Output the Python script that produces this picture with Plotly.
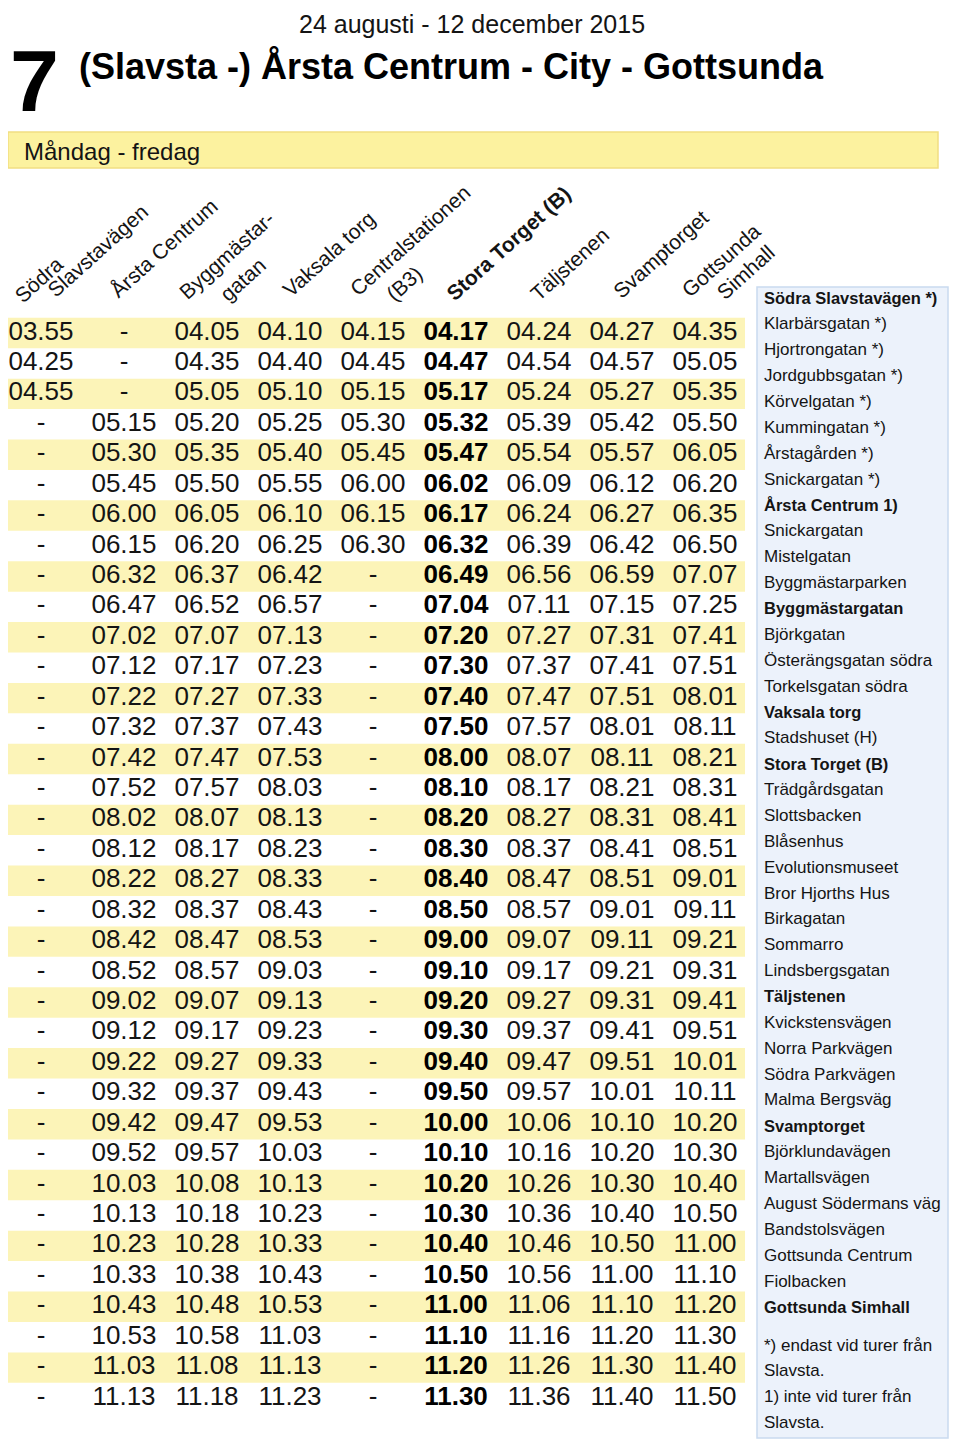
import plotly.graph_objects as go

# ---------------- data ----------------
subtitle = "24 augusti - 12 december 2015"
route_number = "7"
route_title = "(Slavsta -) Årsta Centrum - City - Gottsunda"
day_label = "Måndag - fredag"

header_texts = ["Södra", "Slavstavägen", "Årsta Centrum", "Byggmästar-", "gatan",
                "Vaksala torg", "Centralstationen", "(B3)", "Stora Torget (B)",
                "Täljstenen", "Svamptorget", "Gottsunda", "Simhall"]
header_bold = [False, False, False, False, False, False, False, False, True,
               False, False, False, False]

times = [
    ["03.55", "-", "04.05", "04.10", "04.15", "04.17", "04.24", "04.27", "04.35"],
    ["04.25", "-", "04.35", "04.40", "04.45", "04.47", "04.54", "04.57", "05.05"],
    ["04.55", "-", "05.05", "05.10", "05.15", "05.17", "05.24", "05.27", "05.35"],
    ["-", "05.15", "05.20", "05.25", "05.30", "05.32", "05.39", "05.42", "05.50"],
    ["-", "05.30", "05.35", "05.40", "05.45", "05.47", "05.54", "05.57", "06.05"],
    ["-", "05.45", "05.50", "05.55", "06.00", "06.02", "06.09", "06.12", "06.20"],
    ["-", "06.00", "06.05", "06.10", "06.15", "06.17", "06.24", "06.27", "06.35"],
    ["-", "06.15", "06.20", "06.25", "06.30", "06.32", "06.39", "06.42", "06.50"],
    ["-", "06.32", "06.37", "06.42", "-", "06.49", "06.56", "06.59", "07.07"],
    ["-", "06.47", "06.52", "06.57", "-", "07.04", "07.11", "07.15", "07.25"],
    ["-", "07.02", "07.07", "07.13", "-", "07.20", "07.27", "07.31", "07.41"],
    ["-", "07.12", "07.17", "07.23", "-", "07.30", "07.37", "07.41", "07.51"],
    ["-", "07.22", "07.27", "07.33", "-", "07.40", "07.47", "07.51", "08.01"],
    ["-", "07.32", "07.37", "07.43", "-", "07.50", "07.57", "08.01", "08.11"],
    ["-", "07.42", "07.47", "07.53", "-", "08.00", "08.07", "08.11", "08.21"],
    ["-", "07.52", "07.57", "08.03", "-", "08.10", "08.17", "08.21", "08.31"],
    ["-", "08.02", "08.07", "08.13", "-", "08.20", "08.27", "08.31", "08.41"],
    ["-", "08.12", "08.17", "08.23", "-", "08.30", "08.37", "08.41", "08.51"],
    ["-", "08.22", "08.27", "08.33", "-", "08.40", "08.47", "08.51", "09.01"],
    ["-", "08.32", "08.37", "08.43", "-", "08.50", "08.57", "09.01", "09.11"],
    ["-", "08.42", "08.47", "08.53", "-", "09.00", "09.07", "09.11", "09.21"],
    ["-", "08.52", "08.57", "09.03", "-", "09.10", "09.17", "09.21", "09.31"],
    ["-", "09.02", "09.07", "09.13", "-", "09.20", "09.27", "09.31", "09.41"],
    ["-", "09.12", "09.17", "09.23", "-", "09.30", "09.37", "09.41", "09.51"],
    ["-", "09.22", "09.27", "09.33", "-", "09.40", "09.47", "09.51", "10.01"],
    ["-", "09.32", "09.37", "09.43", "-", "09.50", "09.57", "10.01", "10.11"],
    ["-", "09.42", "09.47", "09.53", "-", "10.00", "10.06", "10.10", "10.20"],
    ["-", "09.52", "09.57", "10.03", "-", "10.10", "10.16", "10.20", "10.30"],
    ["-", "10.03", "10.08", "10.13", "-", "10.20", "10.26", "10.30", "10.40"],
    ["-", "10.13", "10.18", "10.23", "-", "10.30", "10.36", "10.40", "10.50"],
    ["-", "10.23", "10.28", "10.33", "-", "10.40", "10.46", "10.50", "11.00"],
    ["-", "10.33", "10.38", "10.43", "-", "10.50", "10.56", "11.00", "11.10"],
    ["-", "10.43", "10.48", "10.53", "-", "11.00", "11.06", "11.10", "11.20"],
    ["-", "10.53", "10.58", "11.03", "-", "11.10", "11.16", "11.20", "11.30"],
    ["-", "11.03", "11.08", "11.13", "-", "11.20", "11.26", "11.30", "11.40"],
    ["-", "11.13", "11.18", "11.23", "-", "11.30", "11.36", "11.40", "11.50"],
]
bold_column = 5

stops = ["Södra Slavstavägen *)", "Klarbärsgatan *)", "Hjortrongatan *)", "Jordgubbsgatan *)",
         "Körvelgatan *)", "Kummingatan *)", "Årstagården *)", "Snickargatan *)",
         "Årsta Centrum 1)", "Snickargatan", "Mistelgatan", "Byggmästarparken",
         "Byggmästargatan", "Björkgatan", "Österängsgatan södra", "Torkelsgatan södra",
         "Vaksala torg", "Stadshuset (H)", "Stora Torget (B)", "Trädgårdsgatan",
         "Slottsbacken", "Blåsenhus", "Evolutionsmuseet", "Bror Hjorths Hus",
         "Birkagatan", "Sommarro", "Lindsbergsgatan", "Täljstenen", "Kvickstensvägen",
         "Norra Parkvägen", "Södra Parkvägen", "Malma Bergsväg", "Svamptorget",
         "Björklundavägen", "Martallsvägen", "August Södermans väg", "Bandstolsvägen",
         "Gottsunda Centrum", "Fiolbacken", "Gottsunda Simhall"]
stop_bold = ["Södra Slavstavägen *)", "Årsta Centrum 1)", "Byggmästargatan", "Vaksala torg",
             "Stora Torget (B)", "Täljstenen", "Svamptorget", "Gottsunda Simhall"]
footnotes = ["*) endast vid turer från", "Slavsta.", "1) inte vid turer från", "Slavsta."]

# ---------------- layout helpers ----------------
W, H = 960, 1450
OFF = 8  # page body margin added by the browser
def px(x):
    return (x - OFF) / W
def py(y):
    return 1 - (y - OFF) / H

FONT = "Liberation Sans"
INK = "#141414"

# table geometry (screen pixels) -> axis ranges
col0_px, col_step = 41.0, 83.0
row0_px, row_step = 333.0, 30.43

fig = go.Figure()

nx, ny, nt, bx, by, bt = [], [], [], [], [], []
for r, row in enumerate(times):
    for c, t in enumerate(row):
        if c == bold_column:
            bx.append(c); by.append(r); bt.append(t)
        else:
            nx.append(c); ny.append(r); nt.append(t)

fig.add_trace(go.Scatter(x=nx, y=ny, text=nt, mode="text", textposition="middle center",
                         textfont=dict(family=FONT, size=26, color=INK), cliponaxis=False,
                         hoverinfo="skip", showlegend=False))
fig.add_trace(go.Scatter(x=bx, y=by, text=bt, mode="text", textposition="middle center",
                         textfont=dict(family=FONT, size=26, color="#000000", weight="bold"),
                         cliponaxis=False, hoverinfo="skip", showlegend=False))

shapes = []
# stripes on alternating rows
for r in range(0, len(times), 2):
    shapes.append(dict(type="rect", xref="paper", yref="y", x0=px(8), x1=px(745),
                       y0=r - 0.5, y1=r + 0.5, fillcolor="#FCF4B8", line=dict(width=0),
                       layer="below"))
# day band
shapes.append(dict(type="rect", xref="paper", yref="paper", x0=px(8), x1=px(938),
                   y0=py(168), y1=py(132), fillcolor="#FCF29F",
                   line=dict(color="#F1DE82", width=1.5), layer="below"))
# sidebar
shapes.append(dict(type="rect", xref="paper", yref="paper", x0=px(757), x1=px(948),
                   y0=py(1438), y1=py(287), fillcolor="#ECF2FB",
                   line=dict(color="#C9DAF0", width=1.5), layer="below"))

ann = []
ann.append(dict(text=subtitle, x=px(472), y=py(24), xref="paper", yref="paper",
                xanchor="center", yanchor="middle", showarrow=False, borderpad=0,
                font=dict(family=FONT, size=25, color=INK)))
ann.append(dict(text="<b>" + route_number + "</b>", x=px(34), y=py(80), xref="paper", yref="paper",
                xanchor="center", yanchor="middle", showarrow=False, borderpad=0,
                font=dict(family=FONT, size=88, color="#000000")))
ann.append(dict(text="<b>" + route_title + "</b>", x=px(77), y=py(67), xref="paper", yref="paper",
                xanchor="left", yanchor="middle", showarrow=False,
                font=dict(family=FONT, size=36, color="#000000")))
ann.append(dict(text=day_label, x=px(22), y=py(152), xref="paper", yref="paper",
                xanchor="left", yanchor="middle", showarrow=False,
                font=dict(family=FONT, size=24, color=INK)))

# rotated headers: bbox centres in screen pixels
header_centres = [(39, 280), (98, 251), (163, 248), (226, 255), (243, 280), (328, 254),
                  (410, 241), (404, 283), (508, 243), (569, 264), (660, 254), (721, 261),
                  (745, 272)]
for txt, b, (cx, cy) in zip(header_texts, header_bold, header_centres):
    ann.append(dict(text=("<b>" + txt + "</b>") if b else txt, x=px(cx), y=py(cy),
                    xref="paper", yref="paper", xanchor="center", yanchor="middle",
                    textangle=-42, showarrow=False,
                    font=dict(family=FONT, size=21, color=INK)))

# sidebar stop list
stop_y0, stop_step = 298.0, 25.87
for i, s in enumerate(stops):
    is_b = s in stop_bold
    ann.append(dict(text=("<b>" + s + "</b>") if is_b else s,
                    x=px(762), y=py(stop_y0 + i * stop_step), xref="paper", yref="paper",
                    xanchor="left", yanchor="middle", showarrow=False,
                    font=dict(family=FONT, size=16.5 if is_b else 17, color=INK)))
foot_y0 = 1345.0
for i, s in enumerate(footnotes):
    ann.append(dict(text=s, x=px(762), y=py(foot_y0 + i * 25.7), xref="paper", yref="paper",
                    xanchor="left", yanchor="middle", showarrow=False,
                    font=dict(family=FONT, size=17, color=INK)))

fig.update_layout(
    width=W, height=H, margin=dict(l=0, r=0, t=0, b=0),
    paper_bgcolor="white", plot_bgcolor="white",
    shapes=shapes, annotations=ann, showlegend=False,
    xaxis=dict(range=[(OFF - col0_px) / col_step, (W + OFF - col0_px) / col_step], visible=False,
               fixedrange=True, domain=[0, 1]),
    yaxis=dict(range=[(H + OFF - row0_px) / row_step, (OFF - row0_px) / row_step], visible=False,
               fixedrange=True, domain=[0, 1]),
)

fig.write_html("out.html")
